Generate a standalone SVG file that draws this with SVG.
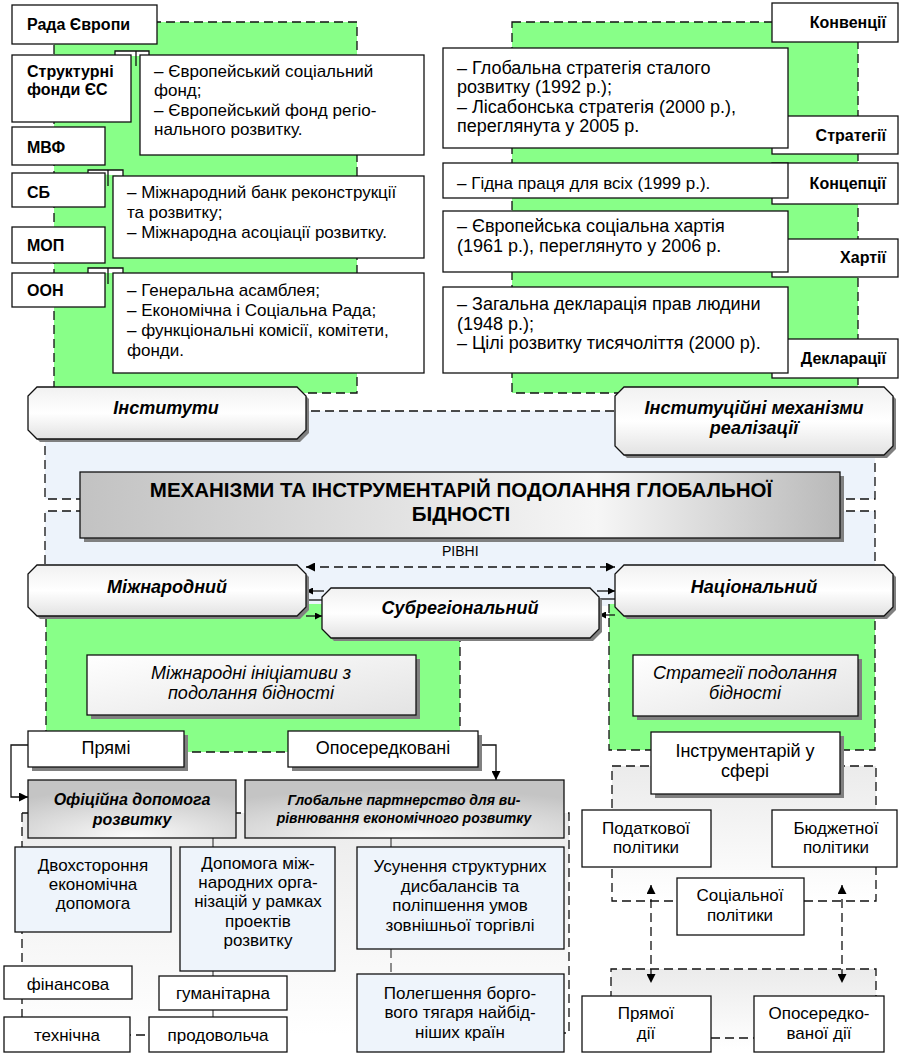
<svg xmlns="http://www.w3.org/2000/svg" width="899" height="1054" viewBox="0 0 899 1054">
<defs>
<style>
.bx{fill:#fff;stroke:#111;stroke-width:1.3}
.bl{fill:#eef4fb;stroke:#111;stroke-width:1.3}
.sh{fill:#808080}
.ds{fill:none;stroke:#111;stroke-width:1.3;stroke-dasharray:9 5}
.ln{fill:none;stroke:#444;stroke-width:1.2}
.ar{fill:none;stroke:#111;stroke-width:1.3}
text{font-family:"Liberation Sans",Arial,sans-serif;fill:#000}
.t{font-size:17px}
.tr{font-size:18px}
.lb{font-size:16px;font-weight:bold}
.oc{font-size:18px;font-weight:bold;font-style:italic}
.c{text-anchor:middle}
.e{text-anchor:end}
</style>
<linearGradient id="gOct" x1="0" y1="0" x2="0" y2="1">
<stop offset="0" stop-color="#f1f1f1"/><stop offset="0.5" stop-color="#ffffff"/><stop offset="1" stop-color="#e2e2e2"/>
</linearGradient>
<linearGradient id="gTitle" x1="0" y1="0" x2="1" y2="0">
<stop offset="0" stop-color="#c2c2c2"/><stop offset="0.68" stop-color="#f6f6f6"/><stop offset="1" stop-color="#b9b9b9"/>
</linearGradient>
<radialGradient id="gGray" cx="0.5" cy="1" r="0.85">
<stop offset="0" stop-color="#fbfbfb"/><stop offset="1" stop-color="#c4c4c4"/>
</radialGradient>
<linearGradient id="gLight" x1="0" y1="0" x2="1" y2="1">
<stop offset="0" stop-color="#ffffff"/><stop offset="1" stop-color="#e3e3e3"/>
</linearGradient>
<linearGradient id="gReg" x1="0" y1="0" x2="0" y2="1">
<stop offset="0" stop-color="#ebebeb"/><stop offset="1" stop-color="#ffffff"/>
</linearGradient>
<marker id="ah" markerWidth="9" markerHeight="9" refX="9" refY="4.5" orient="auto-start-reverse" markerUnits="userSpaceOnUse">
<path d="M0,0 L9,4.5 L0,9 Z" fill="#000"/>
</marker>
<marker id="as" markerWidth="7" markerHeight="7" refX="7" refY="3.5" orient="auto-start-reverse" markerUnits="userSpaceOnUse">
<path d="M0,0 L7,3.5 L0,7 Z" fill="#000"/>
</marker>
</defs>
<rect width="899" height="1054" fill="#fff"/>

<g id="regions">
<rect x="54" y="22" width="303" height="371" class="ds" style="fill:#88ff88"/>
<rect x="512" y="22" width="346" height="371" class="ds" style="fill:#88ff88"/>
<rect x="45" y="411" width="830" height="88" class="ds" style="fill:#edf3fb"/>
<rect x="45" y="511" width="830" height="95" fill="#edf3fb"/>
<path d="M45,606 V511 H875 V606" class="ds"/>
<rect x="46" y="604" width="414" height="148" fill="#88ff88"/>
<path d="M46,604 V752 H460 V604" class="ds"/>
<rect x="609" y="604" width="266" height="146" fill="#88ff88"/>
<path d="M609,604 V750 H875 V604" class="ds"/>
<rect x="612" y="766" width="264" height="135" class="ds" style="fill:url(#gReg)"/>
<rect x="611" y="969" width="265" height="80" fill="url(#gReg)"/>
<path d="M611,1000 V969 H876 V1000" class="ds"/>
<rect x="22" y="813" width="547" height="222" fill="url(#gReg)"/>
<path d="M22,813 H569 V1033 H564 M22,813 V1035 H149" class="ds"/>
</g>

<g id="connectors">
<path d="M115,56 V51 H149 V56" class="bx"/>
<line x1="136" y1="51" x2="136" y2="66" class="ar"/>
<path d="M88,173 V170 H123 V176" class="bx"/>
<line x1="108" y1="170" x2="108" y2="186" class="ar"/>
<path d="M88,273 V268 H123 V273" class="bx"/>
<line x1="108" y1="268" x2="108" y2="284" class="ar"/>
<line x1="306" y1="567" x2="615" y2="567" class="ar" stroke-dasharray="9 5" marker-start="url(#ah)" marker-end="url(#ah)"/>
<line x1="324" y1="591" x2="306" y2="591" class="ar" marker-end="url(#as)"/>
<line x1="306" y1="600" x2="324" y2="600" class="ar"/>
<line x1="306" y1="616" x2="322" y2="616" class="ar" marker-end="url(#as)"/>
<line x1="597" y1="591" x2="615" y2="591" class="ar" marker-end="url(#as)"/>
<line x1="599" y1="599" x2="615" y2="599" class="ar"/>
<line x1="615" y1="615" x2="599" y2="615" class="ar" marker-end="url(#as)"/>
<path d="M28,745 H11 V797 H28" class="ar" marker-end="url(#ah)"/>
<path d="M478,745 H496 V780" class="ar" marker-end="url(#ah)"/>
<path d="M213,838 V847 M213,971 V976 M213,1010 V1017 M391,838 V847" class="ln"/>
<line x1="391" y1="949" x2="391" y2="974" class="ln" stroke-dasharray="9 5"/>
<line x1="651" y1="885" x2="651" y2="983" class="ar" stroke-dasharray="9 5" marker-start="url(#ah)" marker-end="url(#ah)"/>
<line x1="842" y1="885" x2="842" y2="983" class="ar" stroke-dasharray="9 5" marker-start="url(#ah)" marker-end="url(#ah)"/>
<line x1="711" y1="1038" x2="754" y2="1038" class="ds"/>
</g>

<g id="n-rada"><rect x="12" y="5" width="145" height="39" class="bx"/><text x="27" y="30" class="lb">Рада Європи</text></g>
<g id="n-struct"><rect x="12" y="55" width="119" height="67" class="bx"/><text x="27" y="77" class="lb">Структурні</text><text x="27" y="95" class="lb">фонди ЄС</text></g>
<g id="n-text1"><rect x="140" y="55" width="284" height="100" class="bx"/>
<text x="154" y="77" class="t">– Європейський соціальний</text><text x="154" y="96" class="t">фонд;</text><text x="154" y="116" class="t">– Європейський фонд регіо-</text><text x="154" y="135" class="t">нального розвитку.</text></g>
<g id="n-mvf"><rect x="12" y="127" width="93" height="38" class="bx"/><text x="27" y="153" class="lb">МВФ</text></g>
<g id="n-sb"><rect x="12" y="173" width="93" height="34" class="bx"/><text x="27" y="198" class="lb">СБ</text></g>
<g id="n-text2"><rect x="113" y="176" width="311" height="82" class="bx"/>
<text x="127" y="198" class="t">– Міжнародний банк реконструкції</text><text x="127" y="218" class="t">та розвитку;</text><text x="127" y="238" class="t">– Міжнародна асоціації розвитку.</text></g>
<g id="n-mop"><rect x="12" y="227" width="93" height="36" class="bx"/><text x="27" y="251" class="lb">МОП</text></g>
<g id="n-oon"><rect x="12" y="273" width="93" height="34" class="bx"/><text x="27" y="296" class="lb">ООН</text></g>
<g id="n-text3"><rect x="113" y="273" width="311" height="100" class="bx"/>
<text x="127" y="296" class="t">– Генеральна асамблея;</text><text x="127" y="316" class="t">– Економічна і Соціальна Рада;</text><text x="127" y="336" class="t">– функціональні комісії, комітети,</text><text x="127" y="356" class="t">фонди.</text></g>

<g id="n-konv"><rect x="772" y="3" width="126" height="39" class="bx"/><text x="886" y="28" class="lb e">Конвенції</text></g>
<g id="n-strat-lbl"><rect x="772" y="116" width="126" height="38" class="bx"/><text x="886" y="141" class="lb e">Стратегії</text></g>
<g id="n-strat"><rect x="443" y="48" width="345" height="100" class="bx"/>
<text x="457" y="74" class="tr">– Глобальна стратегія сталого</text><text x="457" y="93" class="tr">розвитку (1992 р.);</text><text x="457" y="113" class="tr">– Лісабонська стратегія (2000 р.),</text><text x="457" y="132" class="tr">переглянута у 2005 р.</text></g>
<g id="n-konc-lbl"><rect x="772" y="163" width="126" height="41" class="bx"/><text x="886" y="189" class="lb e">Концепції</text></g>
<g id="n-konc"><rect x="443" y="163" width="345" height="35" class="bx"/><text x="457" y="189" class="t">– Гідна праця для всіх (1999 р.).</text></g>
<g id="n-khart-lbl"><rect x="772" y="239" width="126" height="38" class="bx"/><text x="886" y="263" class="lb e">Хартії</text></g>
<g id="n-khart"><rect x="443" y="211" width="345" height="61" class="bx"/><text x="457" y="232" class="tr">– Європейська соціальна хартія</text><text x="457" y="252" class="tr">(1961 р.), переглянуто у 2006 р.</text></g>
<g id="n-dekl-lbl"><rect x="772" y="339" width="126" height="39" class="bx"/><text x="886" y="364" class="lb e">Декларації</text></g>
<g id="n-dekl"><rect x="443" y="287" width="345" height="86" class="bx"/>
<text x="457" y="310" class="tr">– Загальна декларація прав людини</text><text x="457" y="330" class="tr">(1948 р.);</text><text x="457" y="349" class="tr">– Цілі розвитку тисячоліття (2000 р).</text></g>

<g id="n-inst">
<path d="M40,390 H300 L309,399 V433 L300,442 H40 L31,433 V399 Z" class="sh"/>
<path d="M37,387 H297 L306,396 V430 L297,439 H37 L28,430 V396 Z" fill="url(#gOct)" stroke="#111" stroke-width="1.3"/>
<text x="166" y="414" class="oc c">Інститути</text></g>
<g id="n-mech">
<path d="M627,390 H887 L896,399 V449 L887,458 H627 L618,449 V399 Z" class="sh"/>
<path d="M624,387 H884 L893,396 V446 L884,455 H624 L615,446 V396 Z" fill="url(#gOct)" stroke="#111" stroke-width="1.3"/>
<text x="754" y="414" class="oc c">Інституційні механізми</text><text x="754" y="434" class="oc c">реалізації</text></g>

<g id="n-title">
<rect x="84" y="476" width="760" height="66" class="sh"/>
<rect x="80" y="472" width="760" height="66" fill="url(#gTitle)" stroke="#111" stroke-width="1.3"/>
<text x="461" y="497" class="c" font-size="20.5" font-weight="bold">МЕХАНІЗМИ ТА ІНСТРУМЕНТАРІЙ ПОДОЛАННЯ ГЛОБАЛЬНОЇ</text>
<text x="461" y="521" class="c" font-size="20.5" font-weight="bold">БІДНОСТІ</text></g>
<g id="n-rivni"><text x="442" y="556" font-size="14">РІВНІ</text></g>

<g id="n-mizh">
<path d="M40,568 H300 L309,577 V610 L300,619 H40 L31,610 V577 Z" class="sh"/>
<path d="M37,565 H297 L306,574 V607 L297,616 H37 L28,607 V574 Z" fill="url(#gOct)" stroke="#111" stroke-width="1.3"/>
<text x="167" y="593" class="oc c">Міжнародний</text></g>
<g id="n-nats">
<path d="M627,568 H887 L896,577 V610 L887,619 H627 L618,610 V577 Z" class="sh"/>
<path d="M624,565 H884 L893,574 V607 L884,616 H624 L615,607 V574 Z" fill="url(#gOct)" stroke="#111" stroke-width="1.3"/>
<text x="754" y="593" class="oc c">Національний</text></g>
<g id="n-subreg">
<path d="M334,591 H593 L602,600 V632 L593,641 H334 L325,632 V600 Z" class="sh"/>
<path d="M331,588 H590 L599,597 V629 L590,638 H331 L322,629 V597 Z" fill="url(#gOct)" stroke="#111" stroke-width="1.3"/>
<text x="460" y="614" class="oc c">Субрегіональний</text></g>

<g id="n-initiatives">
<rect x="91" y="659" width="329" height="60" class="sh"/>
<rect x="87" y="655" width="329" height="60" fill="url(#gLight)" stroke="#111" stroke-width="1.3"/>
<text x="251" y="679" class="c" font-size="18" font-style="italic">Міжнародні ініціативи з</text>
<text x="251" y="699" class="c" font-size="18" font-style="italic">подолання бідності</text></g>
<g id="n-strategies">
<rect x="637" y="659" width="225" height="61" class="sh"/>
<rect x="633" y="655" width="225" height="61" fill="url(#gLight)" stroke="#111" stroke-width="1.3"/>
<text x="745" y="679" class="c" font-size="18" font-style="italic">Стратегії подолання</text>
<text x="745" y="699" class="c" font-size="18" font-style="italic">бідності</text></g>

<g id="n-pryami"><rect x="32" y="735" width="156" height="36" class="sh"/><rect x="28" y="731" width="156" height="36" class="bx"/><text x="106" y="754" class="c" font-size="18">Прямі</text></g>
<g id="n-oposer"><rect x="292" y="735" width="190" height="36" class="sh"/><rect x="288" y="731" width="190" height="36" class="bx"/><text x="383" y="754" class="c" font-size="18">Опосередковані</text></g>
<g id="n-instr"><rect x="655" y="736" width="189" height="62" class="sh"/><rect x="651" y="732" width="189" height="62" class="bx"/><text x="745" y="757" class="c" font-size="18">Інструментарій у</text><text x="745" y="777" class="c" font-size="18">сфері</text></g>

<g id="n-oda"><rect x="28" y="780" width="208" height="58" fill="url(#gGray)" stroke="#111" stroke-width="1.3"/>
<text x="132" y="805" class="c" font-size="16" font-weight="bold" font-style="italic">Офіційна допомога</text><text x="132" y="825" class="c" font-size="16" font-weight="bold" font-style="italic">розвитку</text></g>
<g id="n-global"><rect x="245" y="780" width="319" height="58" fill="url(#gGray)" stroke="#111" stroke-width="1.3"/>
<text x="404" y="805" class="c" font-size="14" font-weight="bold" font-style="italic">Глобальне партнерство для ви-</text><text x="404" y="823" class="c" font-size="14" font-weight="bold" font-style="italic">рівнювання економічного розвитку</text></g>

<g id="n-dvokh"><rect x="15" y="847" width="156" height="85" class="bl"/>
<text x="93" y="871" class="t c">Двохстороння</text><text x="93" y="890" class="t c">економічна</text><text x="93" y="909" class="t c">допомога</text></g>
<g id="n-dopomoga"><rect x="180" y="847" width="155" height="124" class="bl"/>
<text x="258" y="869" class="t c">Допомога між-</text><text x="258" y="888" class="t c">народних орга-</text><text x="258" y="907" class="t c">нізацій у рамках</text><text x="258" y="927" class="t c">проектів</text><text x="258" y="946" class="t c">розвитку</text></g>
<g id="n-usun"><rect x="357" y="847" width="207" height="102" class="bl"/>
<text x="460" y="872" class="t c">Усунення структурних</text><text x="460" y="892" class="t c">дисбалансів та</text><text x="460" y="911" class="t c">поліпшення умов</text><text x="460" y="931" class="t c">зовнішньої торгівлі</text></g>
<g id="n-poleg"><rect x="357" y="974" width="207" height="78" class="bl"/>
<text x="460" y="999" class="t c">Полегшення борго-</text><text x="460" y="1018" class="t c">вого тягаря найбід-</text><text x="460" y="1038" class="t c">ніших країн</text></g>
<g id="n-fin"><rect x="4" y="966" width="128" height="33" class="bx"/><text x="68" y="990" class="t c">фінансова</text></g>
<g id="n-tekh"><rect x="4" y="1017" width="126" height="35" class="bx"/><text x="67" y="1041" class="t c">технічна</text></g>
<g id="n-hum"><rect x="159" y="976" width="128" height="34" class="bx"/><text x="223" y="999" class="t c">гуманітарна</text></g>
<g id="n-prod"><rect x="149" y="1017" width="138" height="35" class="bx"/><text x="218" y="1041" class="t c">продовольча</text></g>

<g id="n-podat"><rect x="582" y="810" width="129" height="57" class="bx"/><text x="646" y="834" class="t c">Податкової</text><text x="646" y="853" class="t c">політики</text></g>
<g id="n-budzh"><rect x="772" y="810" width="125" height="57" class="bx"/><text x="836" y="834" class="t c">Бюджетної</text><text x="836" y="853" class="t c">політики</text></g>
<g id="n-sots"><rect x="677" y="878" width="127" height="57" class="bx"/><text x="740" y="901" class="t c">Соціальної</text><text x="740" y="921" class="t c">політики</text></g>
<g id="n-pryamoi"><rect x="582" y="996" width="129" height="56" class="bx"/><text x="646" y="1019" class="t c">Прямої</text><text x="646" y="1039" class="t c">дії</text></g>
<g id="n-oposer-dii"><rect x="754" y="996" width="130" height="56" class="bx"/><text x="819" y="1019" class="t c">Опосередко-</text><text x="819" y="1039" class="t c">ваної дії</text></g>
</svg>
